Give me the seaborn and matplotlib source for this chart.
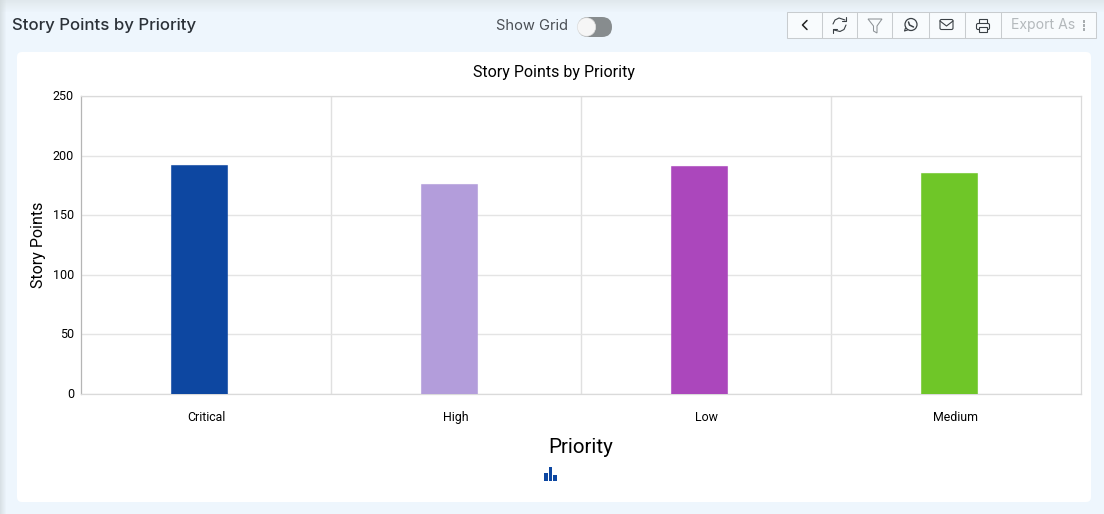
import seaborn as sns
import pandas as pd
import matplotlib.pyplot as plt
from matplotlib.colors import to_rgba
from matplotlib.patches import Rectangle, FancyBboxPatch, Circle, Polygon
from matplotlib.transforms import ScaledTranslation

W, H = 1104, 514

priorities = ['Critical', 'High', 'Low', 'Medium']
story_points = [192, 176, 191, 185]
bar_colors = ['#0D47A1', '#B39DDB', '#AB47BC', '#6FC628']
y_ticks = [0, 50, 100, 150, 200, 250]

toolbar_edges = [786.5, 821.5, 857, 892, 928.5, 964.5, 1000.5, 1095.5]

sns.set_theme(style='whitegrid')
plt.rcParams['font.family'] = ['Roboto', 'DejaVu Sans']

df = pd.DataFrame({'Priority': priorities, 'Story Points': story_points})

fig = plt.figure(figsize=(W / 100, H / 100), dpi=100, facecolor='#EEF6FD')

# page furniture, in pixel coords (y down)
bg = fig.add_axes([0, 0, 1, 1], zorder=0)
bg.set_xlim(0, W)
bg.set_ylim(H, 0)
bg.axis('off')
# soft shadow along top and left of the page
for i in range(12):
    bg.add_patch(Rectangle((0, i), W, 1, color='#D8E0E3', alpha=0.6 * (1 - i / 12), lw=0))
for i in range(6):
    bg.add_patch(Rectangle((i, 0), 1, H, color='#D0D8DB', alpha=0.7 * (1 - i / 6), lw=0))
bg.add_patch(FancyBboxPatch((17, 52), 1074, 450, boxstyle='round,pad=0,rounding_size=5',
                            fc='white', ec='none'))

bg.text(12, 25.5, 'Story Points by Priority', fontsize=12.1, family='Inter', weight='medium',
        color='#2B3138', va='center', ha='left')
bg.text(496, 26.5, 'Show Grid', fontsize=10.6, family='Inter', color='#4A4F55', va='center', ha='left')

# toggle
bg.add_patch(FancyBboxPatch((578, 17), 34, 20, boxstyle='round,pad=0,rounding_size=10',
                            fc='#878C8E', ec='none'))
bg.add_patch(Circle((586.5, 27), 9.2, fc='#F6F6F6', ec='#DDDDDD', lw=0.5))

# toolbar
bg.add_patch(Rectangle((toolbar_edges[0], 12), toolbar_edges[-1] - toolbar_edges[0], 26,
                       fc='#F8FBFD', ec='#C8CCCF', lw=0.75))
for xe in toolbar_edges[1:-1]:
    bg.plot([xe, xe], [12, 38], color='#C8CCCF', lw=0.75)
ic = '#3A4045'
# back chevron
bg.plot([807, 802.5, 807], [20.5, 25, 29.5], color='#222222', lw=1.1)
# refresh
bg.plot([833, 835, 839, 845], [24, 20, 18, 20], color=ic, lw=0.8)
bg.plot([846, 844, 840, 834], [25, 29.5, 31.5, 30], color=ic, lw=0.8)
bg.plot([846, 846, 842], [17, 21, 21], color=ic, lw=0.8)
bg.plot([833, 833, 837], [33, 29, 29], color=ic, lw=0.8)
# filter
bg.add_patch(Polygon([(868, 19), (882, 19), (877, 26), (877, 33), (873.5, 31), (873.5, 26)],
                     closed=True, fc='none', ec='#8D9397', lw=0.75))
# whatsapp
bg.add_patch(Circle((911, 24.5), 6, fc='none', ec=ic, lw=0.9))
bg.plot([905.5, 904.5, 907.5], [28, 31, 30], color=ic, lw=0.8)
bg.plot([908.5, 909.5, 913.5], [22, 25, 27], color=ic, lw=1.1)
# mail
bg.add_patch(FancyBboxPatch((940, 19.5), 13, 10, boxstyle='round,pad=0,rounding_size=1.5',
                            fc='none', ec=ic, lw=0.8))
bg.plot([940, 946.5, 953], [21, 26, 21], color=ic, lw=0.8)
# printer
bg.add_patch(Rectangle((979, 18.5), 8, 5, fc='none', ec=ic, lw=0.8))
bg.add_patch(FancyBboxPatch((976.5, 23.5), 13, 6, boxstyle='round,pad=0,rounding_size=1.5',
                            fc='#F8FBFD', ec=ic, lw=0.8))
bg.add_patch(Rectangle((979, 27), 8, 5, fc='#F8FBFD', ec=ic, lw=0.8))
bg.text(1011, 25, 'Export As', fontsize=10.1, family='Inter', color='#B4B9BC', va='center', ha='left')
for yy in [21, 25, 29]:
    bg.add_patch(Rectangle((1082.5, yy - 1), 2.6, 2.6, color='#A8ADB0', lw=0))

# chart icon under the axis
bg.add_patch(Rectangle((544, 473), 3.6, 8, color='#0D47A1', lw=0))
bg.add_patch(Rectangle((548.5, 467), 3.6, 14, color='#0D47A1', lw=0))
bg.add_patch(Rectangle((553, 475), 3.6, 6, color='#0D47A1', lw=0))

# plot area x 81-1081, y 96-394 px
ax = fig.add_axes([81 / W, 1 - 394 / H, 1000 / W, 298 / H], zorder=1)
ax.patch.set_alpha(0)
sns.barplot(data=df, x='Priority', y='Story Points', hue='Priority', palette=bar_colors,
            order=priorities, hue_order=priorities, width=0.224, saturation=1,
            legend=False, ax=ax, zorder=3)
ax.set_xlim(-0.5, 3.5)
ax.set_ylim(0, 250)
ax.set_yticks(y_ticks)
ax.set_xticks([0.5, 1.5, 2.5], minor=True)

# bars sit a bit left of the band centre in the original
for p in ax.patches:
    p.set_x(p.get_x() - 0.028)
    p.set_edgecolor(to_rgba(p.get_facecolor(), 0.6))
    p.set_linewidth(0.75)

ax.grid(False)
ax.grid(axis='y', which='major', color='#E4E4E4', lw=1)
ax.grid(axis='x', which='minor', color='#E0E0E0', lw=1)
ax.tick_params(axis='x', which='minor', length=0)
ax.tick_params(axis='x', which='major', length=0, pad=12, labelsize=8.9, labelcolor='black')
ax.tick_params(axis='y', length=0, pad=5, labelsize=9, labelcolor='black')
ax.set_axisbelow(True)

# y tick labels sit one pixel above their gridlines
nudge = ScaledTranslation(0, 1 / 100, fig.dpi_scale_trans)
for lab in ax.get_yticklabels():
    lab.set_transform(lab.get_transform() + nudge)

for name, sp in ax.spines.items():
    sp.set_visible(True)
    sp.set_color('#DADADA')
    sp.set_linewidth(0.9)
ax.spines['left'].set_color('#B5B5B5')

ax.set_xlabel('Priority', fontsize=14.8, color='black', labelpad=10)
ax.set_ylabel('Story Points', fontsize=11.5, color='black', labelpad=5)
fig.text(554 / W, 1 - 72 / H, 'Story Points by Priority', fontsize=11.5, color='black',
         ha='center', va='center', zorder=5)

fig.savefig('out.png', dpi=100, facecolor=fig.get_facecolor())
